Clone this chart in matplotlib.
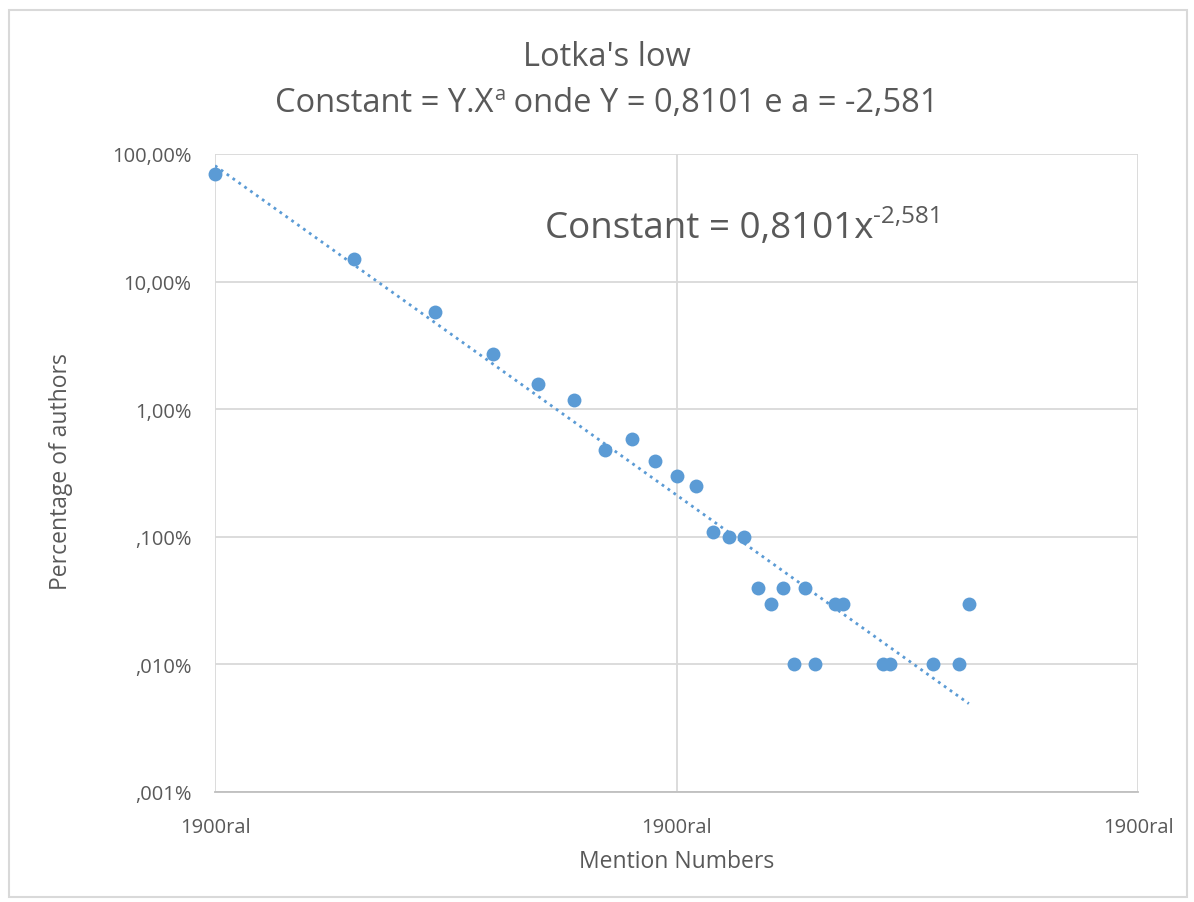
import matplotlib
matplotlib.use("Agg")
import matplotlib.pyplot as plt
import numpy as np
from matplotlib.ticker import FixedLocator, FixedFormatter, NullLocator

# ---- data ----
mentions = [1, 2, 3, 4, 5, 6, 7, 8, 9, 10, 11, 12, 13, 14, 15, 16, 17, 18, 19, 20,
            22, 23, 28, 29, 36, 41, 43]
pct_authors = [0.697, 0.150, 0.058, 0.027, 0.0157, 0.0118, 0.0048, 0.0058, 0.0039,
               0.0030, 0.0025, 0.0011, 0.0010, 0.0010, 0.0004, 0.0003, 0.0004, 0.0001,
               0.0004, 0.0001, 0.0003, 0.0003, 0.0001, 0.0001, 0.0001, 0.0001, 0.0003]
coef_Y = 0.8101
coef_a = -2.581
y_ticks = [1e-5, 1e-4, 1e-3, 1e-2, 1e-1, 1.0]
y_ticklabels = [",001%", ",010%", ",100%", "1,00%", "10,00%", "100,00%"]
x_ticks = [1, 10, 100]
x_ticklabels = ["1900ral", "1900ral", "1900ral"]

FONT = "Open Sans"
plt.rcParams["font.family"] = [FONT, "DejaVu Sans"]

TXT = "#595959"
GRID = "#d9d9d9"
BLUE = "#5b9bd5"

W, H = 1194, 903
fig = plt.figure(figsize=(W / 100, H / 100), dpi=100)
fig.patch.set_facecolor("white")

# outer chart border
fig.add_artist(plt.Rectangle((9 / W, 1 - 898 / H), (1187 - 9) / W, (898 - 11) / H,
                             transform=fig.transFigure, fill=False,
                             edgecolor=GRID, linewidth=1.5))

ax = fig.add_axes([215 / W, 1 - 793 / H, (1138 - 215) / W, (793 - 155) / H])
ax.set_xscale("log")
ax.set_yscale("log")
ax.set_xlim(1, 100)
ax.set_ylim(1e-5, 1)

ax.xaxis.set_major_locator(FixedLocator(x_ticks))
ax.xaxis.set_major_formatter(FixedFormatter(x_ticklabels))
ax.xaxis.set_minor_locator(NullLocator())
ax.yaxis.set_major_locator(FixedLocator(y_ticks))
ax.yaxis.set_major_formatter(FixedFormatter(y_ticklabels))
ax.yaxis.set_minor_locator(NullLocator())

ax.grid(True, which="major", color=GRID, linewidth=1.3)
ax.set_axisbelow(True)
for s in ax.spines.values():
    s.set_visible(False)
ax.spines["bottom"].set_visible(True)
ax.spines["bottom"].set_color("#bfbfbf")
ax.spines["bottom"].set_linewidth(1.3)

ax.tick_params(axis="both", length=0, colors=TXT, labelsize=14.5)
ax.tick_params(axis="x", pad=18)
ax.tick_params(axis="y", pad=17)

# trend line
xt = np.linspace(min(mentions), max(mentions), 400)
yt = coef_Y * xt ** coef_a
ax.plot(xt, yt, linestyle=(0, (1, 1.6)), color=BLUE, linewidth=2.0, zorder=2)

ax.plot(mentions, pct_authors, linestyle="none", marker="o", markersize=10,
        color=BLUE, markeredgewidth=0, zorder=3, clip_on=False)

ax.set_xlabel("Mention Numbers", color=TXT, fontsize=16.5)
ax.set_ylabel("Percentage of authors", color=TXT, fontsize=16.5)
ax.xaxis.set_label_coords(677 / W, 1 - 862 / H, transform=fig.transFigure)
ax.yaxis.set_label_coords(61 / W, 1 - 472 / H, transform=fig.transFigure)
ax.xaxis.label.set_va("center")
ax.yaxis.label.set_va("center")

renderer = fig.canvas.get_renderer()


def sup_text(x_px, y_px, base, sup, size, sup_size, sup_rise, ha="left", tail=""):
    """Draw base + superscript + tail as separate pieces starting at x_px."""
    pieces = [(base, size, 0), (sup, sup_size, sup_rise), (tail, size, 0)]
    widths = []
    for s, fs, _ in pieces:
        if not s:
            widths.append(0)
            continue
        t = fig.text(0, 0, s, fontsize=fs)
        widths.append(t.get_window_extent(renderer).width)
        t.remove()
    total = sum(widths)
    x0 = x_px - total / 2 if ha == "center" else x_px
    for (s, fs, rise), w in zip(pieces, widths):
        if s:
            fig.text(x0 / W, (H - y_px + rise) / H, s, fontsize=fs, color=TXT,
                     ha="left", va="baseline")
        x0 += w


fig.text(607 / W, 1 - 57 / H, "Lotka's low", ha="center", va="center",
         color=TXT, fontsize=23.5)
sup_text(607, 112, "Constant = Y.X", "a", 23.5, 14.5, 12, ha="center",
         tail=" onde Y = 0,8101 e a = -2,581")

sup_text(545, 238, "Constant = 0,8101x", "-2,581", 26.5, 17.5, 15)

fig.savefig("out.png", dpi=100, facecolor="white")
